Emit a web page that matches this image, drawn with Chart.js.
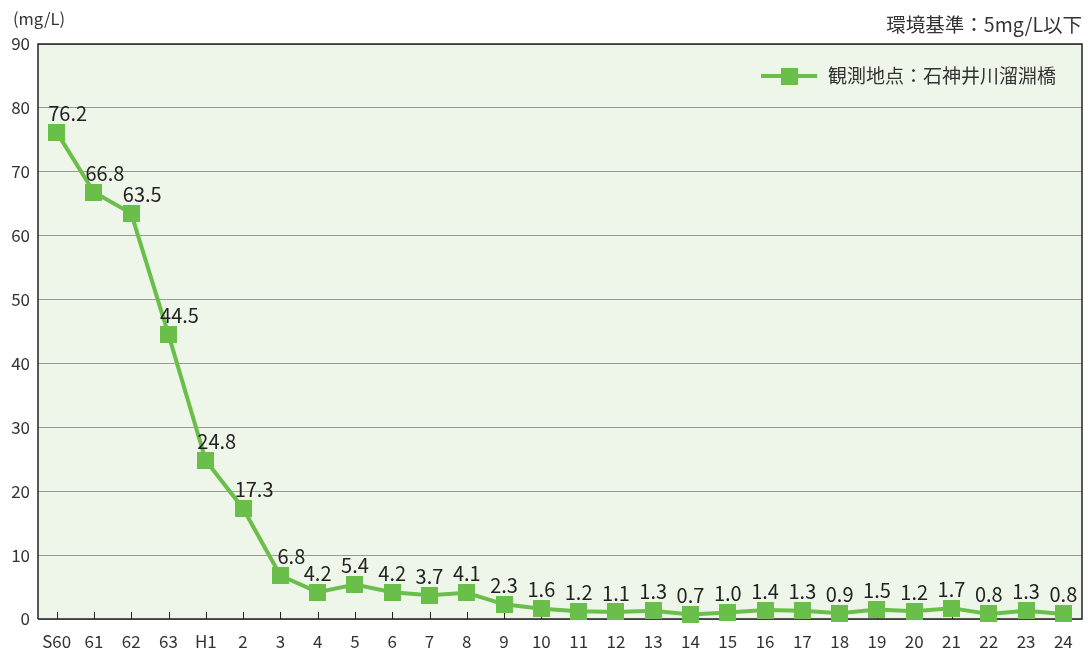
<!DOCTYPE html>
<html>
<head>
<meta charset="utf-8">
<script src="https://cdn.jsdelivr.net/npm/chart.js@4/dist/chart.umd.min.js"></script>
<style>
  html, body { margin: 0; padding: 0; background: #fff; }
  #wrap { position: relative; width: 1088px; height: 651px; }
</style>
</head>
<body>
<div id="wrap"><canvas id="c" width="1088" height="651"></canvas></div>
<script>
const years = ['S60','61','62','63','H1','2','3','4','5','6','7','8','9','10','11','12','13','14','15','16','17','18','19','20','21','22','23','24']
const bod = [76.2,66.8,63.5,44.5,24.8,17.3,6.8,4.2,5.4,4.2,3.7,4.1,2.3,1.6,1.2,1.1,1.3,0.7,1.0,1.4,1.3,0.9,1.5,1.2,1.7,0.8,1.3,0.8]
const yTicks = [0,10,20,30,40,50,60,70,80,90]
const seriesName = '観測地点：石神井川溜淵橋'
const unitLabel = '(mg/L)'
const standardNote = '環境基準：5mg/L以下'

const green = '#6abf4b'
const font = '"Noto Sans CJK JP", "Noto Sans", sans-serif'

// square marker as an image so the layout does not reserve extra padding
const marker = document.createElement('canvas')
marker.width = 17
marker.height = 17
const mctx = marker.getContext('2d')
mctx.fillStyle = green
mctx.fillRect(0, 0, 17, 17)

// background, frame, inner ticks, legend, labels
const decor = {
  id: 'decor',
  beforeDraw(chart) {
    const { ctx, chartArea: a } = chart
    ctx.save()
    ctx.fillStyle = '#eef6e9'
    ctx.fillRect(a.left, a.top, a.right - a.left, a.bottom - a.top)
    ctx.restore()
  },
  beforeDatasetsDraw(chart) {
    const { ctx, chartArea: a, scales } = chart
    ctx.save()
    ctx.strokeStyle = '#222'
    ctx.lineWidth = 1.5
    ctx.beginPath()
    ctx.moveTo(a.left, a.bottom)
    ctx.lineTo(a.left, a.top)
    ctx.lineTo(a.right, a.top)
    ctx.lineTo(a.right, a.bottom)
    ctx.lineTo(a.left, a.bottom)
    ctx.stroke()
    ctx.lineWidth = 1
    years.forEach((_, i) => {
      const x = Math.round(scales.x.getPixelForValue(i)) + 0.5
      ctx.beginPath()
      ctx.moveTo(x, a.bottom)
      ctx.lineTo(x, a.bottom - 7)
      ctx.stroke()
    })
    ctx.restore()
  },
  afterDraw(chart) {
    const { ctx, chartArea: a } = chart
    const meta = chart.getDatasetMeta(0)
    ctx.save()
    ctx.fillStyle = '#222'
    ctx.font = '20px ' + font
    ctx.textAlign = 'center'
    ctx.textBaseline = 'bottom'
    meta.data.forEach((pt, i) => {
      const shift = i < 7 ? 11 : 0
      ctx.fillText(bod[i].toFixed(1), pt.x + shift, pt.y - 9)
    })
    // legend
    const ly = a.top + 32
    ctx.strokeStyle = green
    ctx.lineWidth = 4
    ctx.beginPath()
    ctx.moveTo(761, ly)
    ctx.lineTo(817, ly)
    ctx.stroke()
    ctx.fillStyle = green
    ctx.fillRect(781, ly - 8, 17, 17)
    ctx.fillStyle = '#333'
    ctx.font = '19px ' + font
    ctx.textAlign = 'left'
    ctx.textBaseline = 'middle'
    ctx.fillText(seriesName, 828, ly)
    // header texts
    ctx.font = '16.5px ' + font
    ctx.fillText(unitLabel, 13, 19)
    ctx.font = '19.5px ' + font
    ctx.textAlign = 'right'
    ctx.fillText(standardNote, 1082, 25)
    ctx.restore()
  }
}

new Chart(document.getElementById('c'), {
  type: 'line',
  data: {
    labels: years,
    datasets: [{
      label: seriesName,
      data: bod,
      borderColor: green,
      backgroundColor: green,
      borderWidth: 4,
      pointStyle: marker,
      pointRadius: 5,
      pointHoverRadius: 5,
      pointBorderWidth: 0,
      tension: 0,
      clip: false
    }]
  },
  options: {
    responsive: false,
    animation: false,
    devicePixelRatio: 1,
    layout: { padding: { top: 44, right: 6, left: 0, bottom: 0 } },
    plugins: {
      legend: { display: false },
      tooltip: { enabled: false }
    },
    scales: {
      x: {
        offset: true,
        grid: { display: false },
        border: { display: false },
        ticks: { color: '#333', font: { family: font, size: 17 }, padding: 4, maxRotation: 0, autoSkip: false },
        afterFit(s) { s.height = 32 }
      },
      y: {
        min: 0,
        max: 90,
        afterBuildTicks(s) { s.ticks = yTicks.map(v => ({ value: v })) },
        grid: { color: '#9a9a9a', lineWidth: 1, drawTicks: false },
        border: { display: false },
        ticks: { color: '#333', font: { family: font, size: 17 }, padding: 8 },
        afterFit(s) { s.width = 38 }
      }
    }
  },
  plugins: [decor]
})
</script>
</body>
</html>
